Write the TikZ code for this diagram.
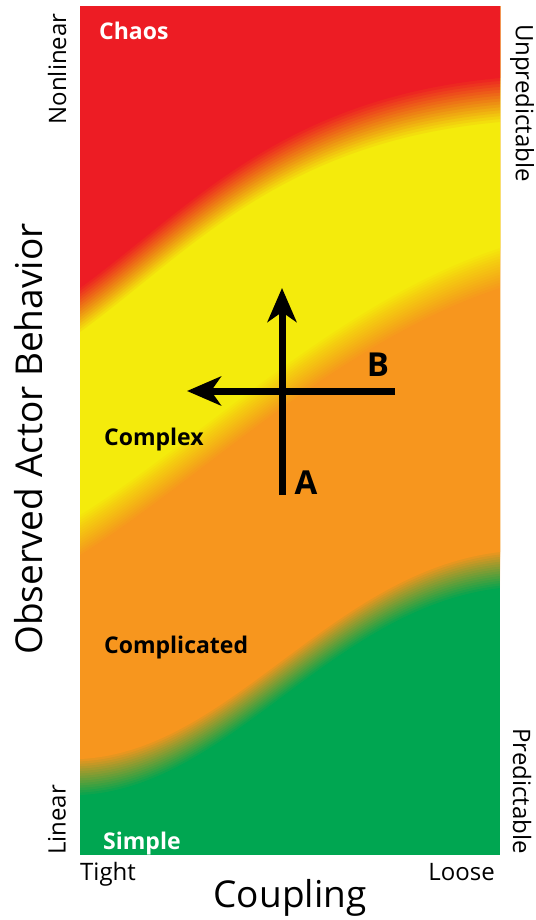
\documentclass[tikz,border=0pt]{standalone}
\usepackage{fontspec}
\setmainfont{Open Sans}
\usepackage{tikz}
\usetikzlibrary{arrows.meta}
\definecolor{chaosred}{HTML}{ED1C24}
\definecolor{complexyellow}{HTML}{F4EB0C}
\definecolor{complicatedorange}{HTML}{F7961E}
\definecolor{simplegreen}{HTML}{00A651}

% soft edged region above a curve: colour, y0, cy1, cy2, y3, cx1, cx2, half width
\newcommand{\softregion}[8]{%
  \foreach \j in {0,...,15}{%
    \pgfmathsetmacro{\dy}{#8-2*#8*\j/15}%
    \pgfmathsetmacro{\op}{1/(16-\j)}%
    \fill[#1, opacity=\op] (80,0) -- (80,{#2+\dy})
      .. controls (#6,{#3+\dy}) and (#7,{#4+\dy}) .. (500,{#5+\dy})
      -- (500,0) -- cycle;
  }%
}

\tikzset{
  zonelabel/.style={inner sep=0pt, font=\fontsize{23}{23}\selectfont\bfseries},
  sidelabel/.style={inner sep=0pt, font=\fontsize{24}{24}\selectfont},
  axislabel/.style={inner sep=0pt, font=\fontsize{37}{37}\selectfont},
  pathlabel/.style={inner sep=0pt, font=\fontsize{33}{33}\selectfont\bfseries},
  shiftarrow/.style={line width=7pt, -{Stealth[length=34pt, width=29pt, inset=10pt]}}
}

\begin{document}
\begin{tikzpicture}[x=1pt, y=-1pt]
  \useasboundingbox (0,0) rectangle (535,920);

  % colour field
  \begin{scope}
    \clip (80,7) rectangle (500,855);
    \fill[simplegreen] (80,7) rectangle (500,855);
    \softregion{complicatedorange}{777}{770}{590}{570}{230}{330}{18}
    \softregion{complexyellow}{535}{460}{320}{268}{200}{340}{20}
    \softregion{chaosred}{310}{230}{120}{100}{190}{280}{22}
  \end{scope}

  % zone names
  \node[zonelabel, text=white, anchor=base west] (chaos) at (99,40) {Chaos};
  \node[zonelabel, anchor=base west] (complex) at (104,445) {Complex};
  \node[zonelabel, anchor=base west] (complicated) at (104,653) {Complicated};
  \node[zonelabel, text=white, anchor=base west] (simple) at (103,849) {Simple};

  % side texts
  \node[sidelabel, rotate=90] (nonlinear) at (57,69) {Nonlinear};
  \node[sidelabel, rotate=90] (linear) at (57,820) {Linear};
  \node[sidelabel, rotate=-90] (unpredictable) at (522,103) {Unpredictable};
  \node[sidelabel, rotate=-90] (predictable) at (522,791) {Predictable};
  \node[sidelabel, anchor=base west] (tight) at (80,880) {Tight};
  \node[sidelabel, anchor=base east] (loose) at (495,880) {Loose};

  \node[axislabel, rotate=90] (behavior) at (29,439) {Observed Actor Behavior};
  \node[axislabel, anchor=base] (coupling) at (290,907) {Coupling};

  % moves
  \coordinate (aStart) at (282,495);
  \coordinate (aEnd) at (282,288);
  \coordinate (bStart) at (395,391);
  \coordinate (bEnd) at (187,391);
  \draw[shiftarrow] (aStart) -- (aEnd);
  \draw[shiftarrow] (bStart) -- (bEnd);
  \node[pathlabel, anchor=base] (pathA) at (306,494) {A};
  \node[pathlabel, anchor=base] (pathB) at (378,376) {B};
\end{tikzpicture}
\end{document}
